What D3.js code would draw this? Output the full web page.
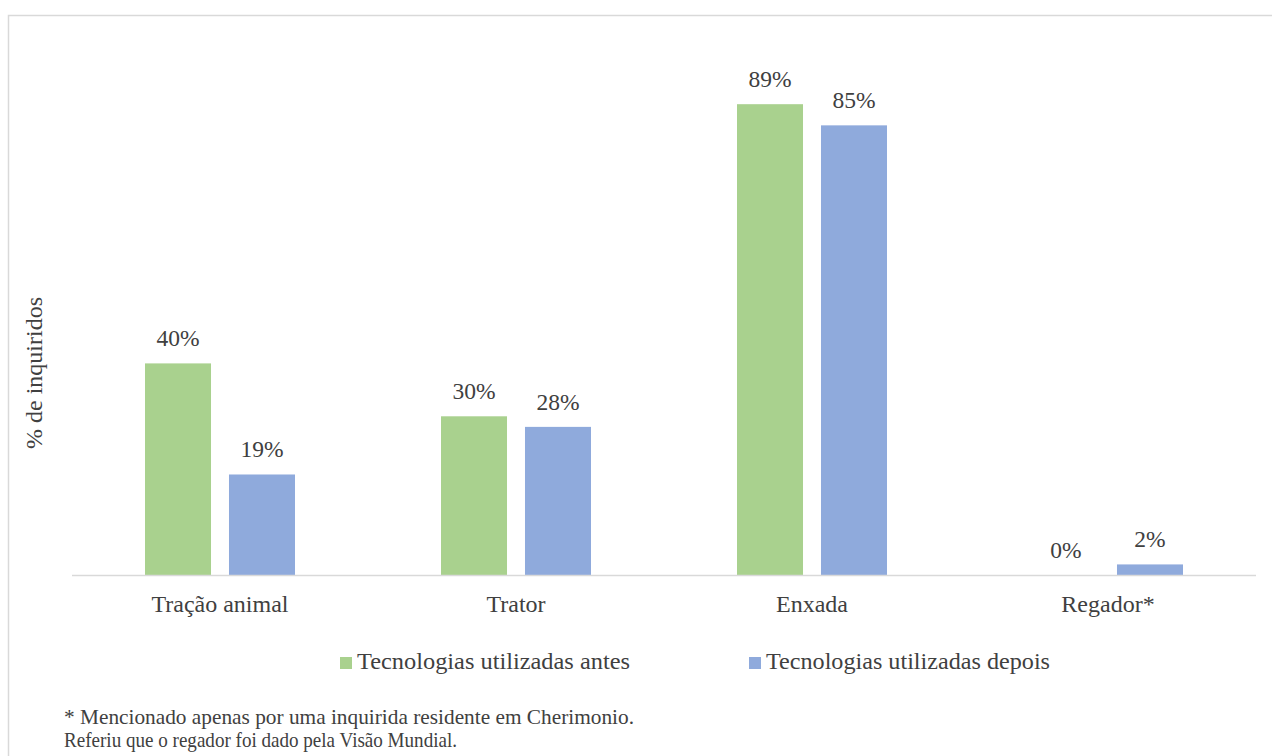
<!DOCTYPE html>
<html>
<head>
<meta charset="utf-8">
<script src="https://cdn.jsdelivr.net/npm/d3@7"></script>
<style>
  body { margin: 0; background: #fff; }
  svg text { font-family: "Liberation Serif", "Times New Roman", serif; fill: #404040; }
</style>
</head>
<body>
<div id="chart"></div>
<script>
const categories = ["Tração animal", "Trator", "Enxada", "Regador*"];
const seriesNames = ["Tecnologias utilizadas antes", "Tecnologias utilizadas depois"];
const antes = [40, 30, 89, 0];
const depois = [19, 28, 85, 2];
const footnotes = [
  "* Mencionado apenas por uma inquirida residente em Cherimonio.",
  "Referiu que o regador foi dado pela Visão Mundial."
];

const width = 1272, height = 756;
const colors = ["#A9D18E", "#8FAADC"];

const svg = d3.select("#chart")
  .append("svg")
  .attr("width", width)
  .attr("height", height)
  .attr("font-family", "Liberation Serif, Times New Roman, serif");

// outer frame
svg.append("rect")
  .attr("x", 8.5).attr("y", 15.5)
  .attr("width", 1270).attr("height", 760)
  .attr("fill", "none")
  .attr("stroke", "#d9d9d9")
  .attr("stroke-width", 1.5);

const plotLeft = 72, plotRight = 1256, base = 575, plotTop = 46;

const x0 = d3.scaleBand()
  .domain(categories)
  .range([plotLeft, plotRight]);

// two bars of ~66px with an 18px gap inside each category
const x1 = d3.scaleBand()
  .domain([0, 1])
  .range([-75, 75])
  .paddingInner(0.214);

const y = d3.scaleLinear()
  .domain([0, 100])
  .range([base, plotTop]);

const rows = categories.map((c, i) => ({ cat: c, vals: [antes[i], depois[i]] }));

const groups = svg.selectAll(".grp")
  .data(rows)
  .enter()
  .append("g")
  .attr("class", "grp")
  .attr("transform", d => `translate(${x0(d.cat) + x0.bandwidth() / 2},0)`);

groups.selectAll("rect")
  .data(d => d.vals.map((v, k) => ({ v, k })))
  .enter()
  .append("rect")
  .attr("x", d => x1(d.k))
  .attr("y", d => y(d.v))
  .attr("width", x1.bandwidth())
  .attr("height", d => base - y(d.v))
  .attr("fill", d => colors[d.k]);

groups.selectAll("text.val")
  .data(d => d.vals.map((v, k) => ({ v, k })))
  .enter()
  .append("text")
  .attr("class", "val")
  .attr("x", d => x1(d.k) + x1.bandwidth() / 2)
  .attr("y", d => y(d.v) - 17)
  .attr("text-anchor", "middle")
  .attr("font-size", 23.5)
  .text(d => d.v + "%");

// baseline
svg.append("line")
  .attr("x1", plotLeft).attr("x2", plotRight)
  .attr("y1", base + 0.5).attr("y2", base + 0.5)
  .attr("stroke", "#d9d9d9")
  .attr("stroke-width", 1.5);

// category labels
svg.selectAll(".cat")
  .data(categories)
  .enter()
  .append("text")
  .attr("class", "cat")
  .attr("x", d => x0(d) + x0.bandwidth() / 2)
  .attr("y", 612)
  .attr("text-anchor", "middle")
  .attr("font-size", 24)
  .text(d => d);

// y axis title
svg.append("text")
  .attr("transform", "translate(42,373) rotate(-90)")
  .attr("text-anchor", "middle")
  .attr("font-size", 24)
  .text("% de inquiridos");

// legend
const legendX = [340, 749];
const lg = svg.selectAll(".lg")
  .data(seriesNames)
  .enter()
  .append("g")
  .attr("class", "lg")
  .attr("transform", (d, i) => `translate(${legendX[i]},657)`);

lg.append("rect")
  .attr("width", 12).attr("height", 12)
  .attr("fill", (d, i) => colors[i]);

lg.append("text")
  .attr("x", 17)
  .attr("y", 12)
  .attr("font-size", 24)
  .attr("textLength", (d, i) => [273, 284][i])
  .attr("lengthAdjust", "spacingAndGlyphs")
  .text(d => d);

// footnotes
svg.selectAll(".fn")
  .data(footnotes)
  .enter()
  .append("text")
  .attr("class", "fn")
  .attr("x", 64)
  .attr("y", (d, i) => 724 + i * 22.5)
  .attr("font-size", 21)
  .attr("textLength", (d, i) => [570, 393][i])
  .attr("lengthAdjust", "spacingAndGlyphs")
  .text(d => d);
</script>
</body>
</html>
